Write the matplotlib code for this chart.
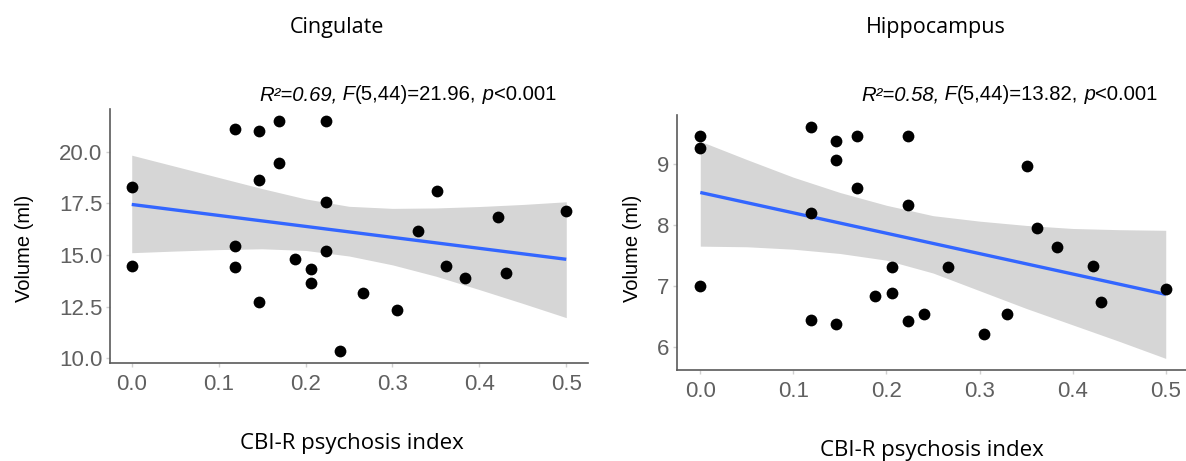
import numpy as np
import matplotlib
matplotlib.use("Agg")
import matplotlib.pyplot as plt

plt.rcParams["font.family"] = ["Liberation Sans", "DejaVu Sans"]

# ---------------- data ----------------
titles = ["Cingulate", "Hippocampus"]
x_label = "CBI-R psychosis index"
y_label = "Volume (ml)"

cing_x = [0.0, 0.0, 0.119, 0.146, 0.169, 0.223, 0.169, 0.146, 0.223, 0.119, 0.119, 0.146, 0.188,
          0.206, 0.206, 0.223, 0.240, 0.266, 0.305, 0.329, 0.351, 0.362, 0.383, 0.422, 0.431, 0.5]
cing_y = [18.30, 14.48, 21.12, 21.03, 21.52, 21.52, 19.48, 18.66, 17.55, 15.43, 14.43, 12.74, 14.82,
          14.32, 13.63, 15.19, 10.32, 13.14, 12.34, 16.16, 18.11, 14.48, 13.87, 16.85, 14.13, 17.14]

hip_x = [0.0, 0.0, 0.0, 0.119, 0.119, 0.119, 0.146, 0.146, 0.146, 0.168, 0.168, 0.188, 0.206, 0.206,
         0.223, 0.223, 0.223, 0.240, 0.266, 0.305, 0.329, 0.351, 0.362, 0.383, 0.422, 0.431, 0.5]
hip_y = [9.455, 9.26, 7.00, 9.61, 8.19, 6.44, 9.37, 9.06, 6.38, 9.455, 8.61, 6.83, 7.31, 6.88,
         9.455, 8.33, 6.43, 6.53, 7.31, 6.205, 6.54, 8.96, 7.94, 7.63, 7.33, 6.73, 6.95]

# fitted lines (endpoints)
fit_x = [0.0, 0.5]
cing_fit = [17.45, 14.79]
hip_fit = [8.53, 6.86]

# confidence band edges
band_x = [0.0, 0.05, 0.1, 0.15, 0.2, 0.25, 0.3, 0.35, 0.4, 0.45, 0.5]
cing_upper = [19.84, 19.30, 18.76, 18.22, 17.72, 17.36, 17.26, 17.28, 17.35, 17.45, 17.58]
cing_lower = [15.11, 15.19, 15.26, 15.30, 15.22, 14.95, 14.52, 13.97, 13.32, 12.65, 11.96]
hip_upper = [9.37, 9.07, 8.78, 8.53, 8.32, 8.15, 8.06, 7.99, 7.94, 7.92, 7.91]
hip_lower = [7.65, 7.64, 7.60, 7.53, 7.42, 7.21, 6.92, 6.63, 6.36, 6.09, 5.81]

x_ticks = [0.0, 0.1, 0.2, 0.3, 0.4, 0.5]
x_tick_labels = ["0.0", "0.1", "0.2", "0.3", "0.4", "0.5"]
cing_yticks = [10.0, 12.5, 15.0, 17.5, 20.0]
cing_ytick_labels = ["10.0", "12.5", "15.0", "17.5", "20.0"]
hip_yticks = [6, 7, 8, 9]
hip_ytick_labels = ["6", "7", "8", "9"]

cing_stats = [("R\u00b2=0.69,", "italic"), (" F", "italic"), ("(5,44)=21.96,", "normal"),
              (" p", "italic"), ("<0.001", "normal")]
hip_stats = [("R\u00b2=0.58,", "italic"), (" F", "italic"), ("(5,44)=13.82,", "normal"),
             (" p", "italic"), ("<0.001", "normal")]

# ---------------- figure ----------------
W, H = 1186, 461
fig = plt.figure(figsize=(W / 100, H / 100), dpi=100)
fig.patch.set_facecolor("white")


def px_axes(l, r, t, b):
    return [l / W, 1 - b / H, (r - l) / W, (b - t) / H]


ax1 = fig.add_axes(px_axes(110, 588, 109, 363))
ax2 = fig.add_axes(px_axes(677, 1189, 115, 370))

TITLE_FONT = ["Open Sans", "DejaVu Sans"]


def panel(ax, x, y, fy, bu, bl, yt, ytl):
    ax.fill_between(band_x, bl, bu, color="#999999", alpha=0.4, lw=0, zorder=1)
    ax.plot(fit_x, fy, color="#3366FF", lw=2.4, zorder=2, solid_capstyle="butt")
    ax.scatter(x, y, s=72, color="black", lw=0, zorder=3, clip_on=False)
    ax.set_xlim(-0.025, 0.525)
    lo = min(min(y), min(bl))
    hi = max(max(y), max(bu))
    span = hi - lo
    ax.set_ylim(lo - 0.05 * span, hi + 0.05 * span)
    ax.set_xticks(x_ticks)
    ax.set_xticklabels(x_tick_labels)
    ax.set_yticks(yt)
    ax.set_yticklabels(ytl)
    for s in ["top", "right"]:
        ax.spines[s].set_visible(False)
    for s in ["left", "bottom"]:
        ax.spines[s].set_color("#5a5a5a")
        ax.spines[s].set_linewidth(1.2)
    ax.tick_params(axis="x", length=3, width=1, color="#d0d0d0", pad=5.0,
                   labelsize=16, labelcolor="#606060")
    ax.tick_params(axis="y", length=3, width=1, color="#d0d0d0", pad=2.5,
                   labelsize=16, labelcolor="#606060")
    ax.set_facecolor("white")


panel(ax1, cing_x, cing_y, cing_fit, cing_upper, cing_lower, cing_yticks, cing_ytick_labels)
panel(ax2, hip_x, hip_y, hip_fit, hip_upper, hip_lower, hip_yticks, hip_ytick_labels)

# titles
fig.text(290 / W, 1 - 28 / H, titles[0], ha="left", va="center", fontsize=15.5,
         family=TITLE_FONT, color="black")
fig.text(866 / W, 1 - 28 / H, titles[1], ha="left", va="center", fontsize=15.5,
         family=TITLE_FONT, color="black")

# x labels
fig.text(352 / W, 1 - 443 / H, x_label, ha="center", va="center", fontsize=16,
         family=TITLE_FONT, color="black")
fig.text(932 / W, 1 - 450 / H, x_label, ha="center", va="center", fontsize=16,
         family=TITLE_FONT, color="black")

# y labels
fig.text(24 / W, 1 - 248 / H, y_label, ha="center", va="center", rotation=90,
         fontsize=14.5, color="black")
fig.text(632 / W, 1 - 248 / H, y_label, ha="center", va="center", rotation=90,
         fontsize=14.5, color="black")


def stat_text(x0, y0, pieces):
    prev = None
    for s, st in pieces:
        kw = dict(fontsize=14.6, fontstyle=st, color="black", family=["Liberation Sans"])
        if prev is None:
            prev = fig.text(x0 / W, 1 - y0 / H, s, ha="left", va="center", **kw)
        else:
            prev = ax1.annotate(s, xy=(1, 0), xycoords=prev, ha="left", va="bottom",
                                annotation_clip=False, **kw)


stat_text(259, 95, cing_stats)
stat_text(861, 95, hip_stats)

fig.savefig("out.png", dpi=100, facecolor="white")
